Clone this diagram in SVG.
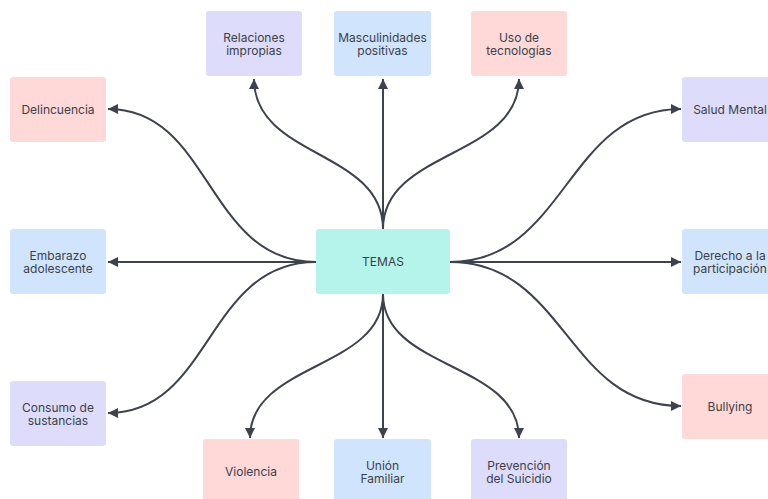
<svg xmlns="http://www.w3.org/2000/svg" width="768" height="499" viewBox="0 0 768 499">
<style>
  .box { stroke: none; }
  .pink { fill: #ffd8d8; }
  .blue { fill: #d1e4fe; }
  .lav { fill: #dedcfb; }
  .teal { fill: #b5f4ea; }
  text { font-family: Inter, "Liberation Sans", sans-serif; font-size: 12px; fill: #3b3f47; text-anchor: middle; }
  .conn { fill: none; stroke: #3d424c; stroke-width: 2; marker-end: url(#arrow); }
</style>
<defs>
  <marker id="arrow" markerUnits="userSpaceOnUse" markerWidth="11" markerHeight="10" refX="10" refY="5" orient="auto">
    <path d="M0,0 L10,5 L0,10 Z" fill="#3d424c"/>
  </marker>
</defs>
<rect width="768" height="499" fill="#ffffff"/>
<g id="connectors">
  <path class="conn" d="M383,229 L383,79"/>
  <path class="conn" d="M383,229 C383,150 254,158 254,79"/>
  <path class="conn" d="M383,229 C383,150 519,158 519,79"/>
  <path class="conn" d="M316,262 L108,262"/>
  <path class="conn" d="M316,262 C206,262 212,109 108,109"/>
  <path class="conn" d="M316,262 C206,262 212,413 108,413"/>
  <path class="conn" d="M450,262 L681,262"/>
  <path class="conn" d="M450,262 C566,262 566,109 681,109"/>
  <path class="conn" d="M450,262 C566,262 566,406 681,406"/>
  <path class="conn" d="M383,294 L383,438"/>
  <path class="conn" d="M383,294 C383,370 250,362 250,438"/>
  <path class="conn" d="M383,294 C383,370 519,362 519,438"/>
</g>
<g id="temas">
  <rect class="box teal" x="316" y="229" width="134" height="65" rx="3"/>
  <text x="383" y="266">TEMAS</text>
</g>
<g id="relaciones">
  <rect class="box lav" x="206" y="11" width="96" height="65" rx="3"/>
  <text x="254" y="41.5">Relaciones</text>
  <text x="254" y="55">impropias</text>
</g>
<g id="masculinidades">
  <rect class="box blue" x="334" y="11" width="97" height="65" rx="3"/>
  <text x="382.5" y="41.5">Masculinidades</text>
  <text x="382.5" y="55">positivas</text>
</g>
<g id="tecnologias">
  <rect class="box pink" x="471" y="11" width="96" height="65" rx="3"/>
  <text x="519" y="41.5">Uso de</text>
  <text x="519" y="55">tecnologías</text>
</g>
<g id="delincuencia">
  <rect class="box pink" x="10" y="77" width="96" height="65" rx="3"/>
  <text x="58" y="113.5">Delincuencia</text>
</g>
<g id="embarazo">
  <rect class="box blue" x="10" y="229" width="96" height="65" rx="3"/>
  <text x="58" y="259.5">Embarazo</text>
  <text x="58" y="273">adolescente</text>
</g>
<g id="consumo">
  <rect class="box lav" x="10" y="381" width="96" height="65" rx="3"/>
  <text x="58" y="411.5">Consumo de</text>
  <text x="58" y="425">sustancias</text>
</g>
<g id="salud">
  <rect class="box lav" x="682" y="77" width="96" height="65" rx="3"/>
  <text x="730" y="113.5">Salud Mental</text>
</g>
<g id="derecho">
  <rect class="box blue" x="682" y="229" width="96" height="65" rx="3"/>
  <text x="730" y="259.5">Derecho a la</text>
  <text x="730" y="273">participación</text>
</g>
<g id="bullying">
  <rect class="box pink" x="682" y="374" width="96" height="65" rx="3"/>
  <text x="730" y="410.5">Bullying</text>
</g>
<g id="violencia">
  <rect class="box pink" x="203" y="439" width="96" height="65" rx="3"/>
  <text x="251" y="475.5">Violencia</text>
</g>
<g id="union">
  <rect class="box blue" x="334" y="439" width="97" height="65" rx="3"/>
  <text x="382.5" y="469.5">Unión</text>
  <text x="382.5" y="483">Familiar</text>
</g>
<g id="prevencion">
  <rect class="box lav" x="471" y="439" width="96" height="65" rx="3"/>
  <text x="519" y="469.5">Prevención</text>
  <text x="519" y="483">del Suicidio</text>
</g>
</svg>
